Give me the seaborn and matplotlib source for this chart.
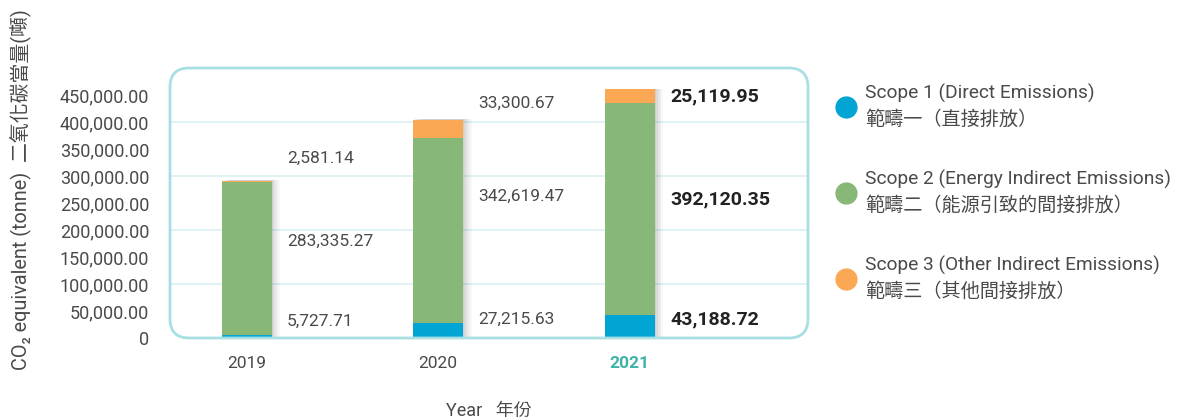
import numpy as np
import pandas as pd
import matplotlib
matplotlib.use("Agg")
import matplotlib.pyplot as plt
from matplotlib.patches import FancyBboxPatch
from matplotlib.lines import Line2D
import seaborn as sns

# Données (tonnes CO2e)
years = ["2019", "2020", "2021"]
scope1 = [5727.71, 27215.63, 43188.72]
scope2 = [283335.27, 342619.47, 392120.35]
scope3 = [2581.14, 33300.67, 25119.95]

scope_labels = [
    "Scope 1 (Direct Emissions)\n範疇一（直接排放）",
    "Scope 2 (Energy Indirect Emissions)\n範疇二（能源引致的間接排放）",
    "Scope 3 (Other Indirect Emissions)\n範疇三（其他間接排放）",
]
y_ticks = [0, 50000, 100000, 150000, 200000, 250000, 300000, 350000, 400000, 450000]
grid_vals = [100000, 200000, 300000, 400000]

COLORS = ["#00a5d3", "#87b878", "#fba854"]
TEXT = "#4a4a4a"
FRAME = "#a8dfe3"
FONTS = ["Roboto", "Noto Sans CJK TC", "DejaVu Sans"]

sns.set_style("white")
plt.rcParams["font.family"] = FONTS

df = pd.DataFrame({"year": years, "s1": scope1, "s2": scope2, "s3": scope3})
df["s12"] = df["s1"] + df["s2"]
df["total"] = df["s12"] + df["s3"]

fig = plt.figure(figsize=(11.77, 4.2), dpi=100)
ax = fig.add_axes([170 / 1177, 82 / 420, 638 / 1177, 270 / 420])

# grille légère
for g in grid_vals:
    ax.axhline(g, color="#d9f0f2", lw=1.2, zorder=0)

# ombre portée des barres (douce)
for dx, a in [(0.045, 0.04), (0.035, 0.05), (0.025, 0.06), (0.015, 0.07), (0.006, 0.08)]:
    ax.bar(np.arange(3) + dx, df["total"] + 1500, width=0.26, color="#555555",
           alpha=a, zorder=1, linewidth=0)

# barres empilées (superposées du total vers le bas)
sns.barplot(data=df, x="year", y="total", color=COLORS[2], width=0.26,
            saturation=1, ax=ax, zorder=2, linewidth=0)
sns.barplot(data=df, x="year", y="s12", color=COLORS[1], width=0.26,
            saturation=1, ax=ax, zorder=3, linewidth=0)
sns.barplot(data=df, x="year", y="s1", color=COLORS[0], width=0.26,
            saturation=1, ax=ax, zorder=4, linewidth=0)

ax.set_xlim(-0.40, 2.93)
ax.set_ylim(0, 500000)
ax.set_yticks(y_ticks)
ax.set_yticklabels(["0"] + [f"{v:,.2f}" for v in y_ticks[1:]], fontsize=13, color=TEXT)
ax.tick_params(axis="y", length=0, pad=15)
ax.tick_params(axis="x", length=0, pad=13)
for i, lab in enumerate(ax.get_xticklabels()):
    lab.set_fontsize(12.5)
    lab.set_color(TEXT)
    if i == 2:
        lab.set_color("#3fb3a8")
        lab.set_fontweight("bold")
ax.set_xlabel("Year   年份", fontsize=13, color=TEXT, labelpad=22)
ax.set_ylabel("")
for s in ax.spines.values():
    s.set_visible(False)

# cadre arrondi
frame = FancyBboxPatch((0, 0), 1, 1, boxstyle="round,pad=0,rounding_size=0.03",
                       transform=ax.transAxes, fill=False, edgecolor=FRAME,
                       linewidth=2, clip_on=False, zorder=5,
                       mutation_aspect=638 / 270)
ax.add_patch(frame)

# étiquettes de valeurs
label_pos = [
    [0.063, 0.359, 0.667],
    [0.070, 0.526, 0.870],
    [0.067, 0.515, 0.896],
]
for i in range(3):
    vals = [scope1[i], scope2[i], scope3[i]]
    bold = i == 2
    for v, fy in zip(vals, label_pos[i]):
        ax.text(i + 0.21, fy, f"{v:,.2f}", transform=ax.get_xaxis_transform(),
                va="center", ha="left", fontsize=14 if bold else 12.5,
                fontweight="bold" if bold else "normal",
                color="#222222" if bold else TEXT, zorder=6)

# titre axe Y
fig.text(20 / 1177, 1 - 190 / 420, "CO₂ equivalent (tonne)  二氧化碳當量(噸)",
         rotation=90, ha="center", va="center", fontsize=14.3, color=TEXT)

# légende
handles = [Line2D([0], [0], marker="o", linestyle="", markersize=15,
                  markerfacecolor=c, markeredgecolor=c) for c in COLORS]
leg = fig.legend(handles, scope_labels, loc="upper left",
                 bbox_to_anchor=(828 / 1177, 1 - 76 / 420), frameon=False,
                 fontsize=13.8, labelspacing=2.13, handletextpad=0.45,
                 borderaxespad=0, handlelength=1.1)
for t in leg.get_texts():
    t.set_color(TEXT)
    t.set_linespacing(1.5)

fig.savefig("out.png", dpi=100)
